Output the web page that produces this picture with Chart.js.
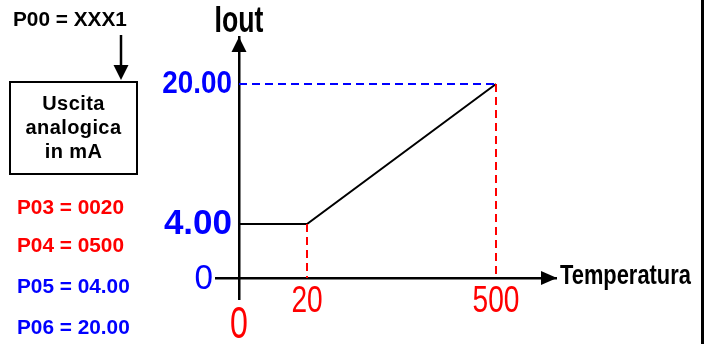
<!DOCTYPE html>
<html>
<head>
<meta charset="utf-8">
<script src="https://cdn.jsdelivr.net/npm/chart.js@4/dist/chart.umd.min.js"></script>
<style>
html, body { margin: 0; padding: 0; background: #fff; }
#wrap { position: relative; width: 711px; height: 344px; overflow: hidden; background: #fff;
        font-family: "Liberation Sans", Arial, sans-serif; }
#chart { position: absolute; left: 0; top: 0; }
.t { position: absolute; font-weight: bold; white-space: nowrap; line-height: 1; }
.p { font-size: 20.8px; left: 17px; }
.red { color: #ff0000; }
.blue { color: #0000ff; }
.box { position: absolute; left: 9px; top: 81px; width: 129px; height: 94px; box-sizing: border-box;
       border: 2px solid #000; }
.bt { position: absolute; left: 9px; width: 129px; text-align: center; font-size: 20px; font-weight: bold;
      line-height: 1; white-space: nowrap; letter-spacing: 0.4px; }
#rline { position: absolute; left: 701px; top: 0; width: 3px; height: 344px; background: #000; }
svg { position: absolute; left: 0; top: 0; }
</style>
</head>
<body>
<div id="wrap">
  <canvas id="chart" width="711" height="344"></canvas>
  <div class="t" style="left:13px; top:8.6px; font-size:20.8px;">P00 = XXX1</div>
  <svg width="140" height="90">
    <line x1="121" y1="35" x2="121" y2="67" stroke="#000" stroke-width="2.5"/>
    <polygon points="113.5,65 128.5,65 121,80" fill="#000"/>
  </svg>
  <div class="box"></div>
  <div class="bt" style="top:93.1px;">Uscita</div>
  <div class="bt" style="top:116.6px;">analogica</div>
  <div class="bt" style="top:141.1px;">in mA</div>
  <div class="t p red" style="top:197.4px;">P03 = 0020</div>
  <div class="t p red" style="top:235.4px;">P04 = 0500</div>
  <div class="t p blue" style="top:276.4px;">P05 = 04.00</div>
  <div class="t p blue" style="top:317.4px;">P06 = 20.00</div>
  <div id="rline"></div>
</div>
<script>
// ---- data ----
const temperature = [0, 20, 500];          // x values of the output curve
const iout = [4, 4, 20];                   // mA values of the output curve
const xTickValues = [0, 20, 500];
const xTickLabels = ['0', '20', '500'];
const yTickValues = [0, 4, 20];
const yTickLabels = ['0', '4.00', '20.00'];
const xAxisName = 'Temperatura';
const yAxisName = 'Iout';

// ---- piecewise (schematic) scale ----
class PiecewiseScale extends Chart.LinearScale {
  determineDataLimits() {
    const kv = this.options.knotValues;
    this.min = kv[0];
    this.max = kv[kv.length - 1];
  }
  buildTicks() {
    return this.options.tickValues.map(v => ({ value: v }));
  }
  getPixelForValue(v) {
    if (v === null || v === undefined || isNaN(v)) return NaN;
    const kv = this.options.knotValues, kf = this.options.knotFractions;
    let i = 0;
    while (i < kv.length - 2 && v > kv[i + 1]) i++;
    const f = kf[i] + (v - kv[i]) / (kv[i + 1] - kv[i]) * (kf[i + 1] - kf[i]);
    return this.getPixelForDecimal(f);
  }
  getValueForPixel(p) {
    const f = this.getDecimalForPixel(p);
    const kv = this.options.knotValues, kf = this.options.knotFractions;
    let i = 0;
    while (i < kf.length - 2 && f > kf[i + 1]) i++;
    return kv[i] + (f - kf[i]) / (kf[i + 1] - kf[i]) * (kv[i + 1] - kv[i]);
  }
  _computeLabelItems(chartArea) {
    const items = super._computeLabelItems(chartArea);
    const sx = this.options.labelShiftX || [], sy = this.options.labelShiftY || [];
    items.forEach((it, i) => {
      if (it.options && it.options.translation) {
        it.options.translation[0] += (sx[i] || 0);
        it.options.translation[1] += (sy[i] || 0);
      }
    });
    return items;
  }
  drawLabels(chartArea) {
    if (!this.options.ticks.display) return;
    const ctx = this.ctx;
    const sxs = this.options.labelScaleX || [];
    const items = this.getLabelItems(chartArea);
    items.forEach((item, i) => {
      const o = item.options, f = item.font;
      ctx.save();
      ctx.translate(o.translation[0], o.translation[1]);
      if (o.rotation) ctx.rotate(o.rotation);
      ctx.scale(sxs[i] || 1, 1);
      ctx.font = f.string;
      ctx.fillStyle = o.color;
      ctx.textAlign = o.textAlign;
      ctx.textBaseline = o.textBaseline;
      const lines = Array.isArray(item.label) ? item.label : [item.label];
      let y = item.textOffset;
      lines.forEach(l => { ctx.fillText(String(l), 0, y); y += f.lineHeight; });
      ctx.restore();
    });
  }
}
PiecewiseScale.id = 'piecewise';
PiecewiseScale.defaults = Chart.LinearScale.defaults;
Chart.register(PiecewiseScale);

const curve = temperature.map((t, i) => ({ x: t, y: iout[i] }));
const topY = iout[iout.length - 1], lastX = temperature[temperature.length - 1];
const blueGuide = [{ x: 0, y: topY }, { x: lastX, y: topY }];
const redGuide1 = [{ x: temperature[1], y: iout[1] }, { x: temperature[1], y: 0 }];
const redGuide2 = [{ x: lastX, y: topY }, { x: lastX, y: 0 }];

function scaledText(ctx, text, x, y, sx) {
  ctx.save();
  ctx.translate(x, y);
  ctx.scale(sx, 1);
  ctx.fillText(text, 0, 0);
  ctx.restore();
}

const axisDecor = {
  id: 'axisDecor',
  afterDraw(chart) {
    const { ctx, chartArea: a, scales: { x, y } } = chart;
    const x0 = x.getPixelForValue(0), y0 = y.getPixelForValue(0);
    ctx.save();
    ctx.fillStyle = '#000';
    ctx.beginPath();
    ctx.moveTo(a.right + 1, y0); ctx.lineTo(a.right - 15, y0 - 7); ctx.lineTo(a.right - 15, y0 + 7);
    ctx.closePath(); ctx.fill();
    ctx.beginPath();
    ctx.moveTo(x0, a.top); ctx.lineTo(x0 - 7.5, a.top + 15); ctx.lineTo(x0 + 7.5, a.top + 15);
    ctx.closePath(); ctx.fill();
    ctx.textBaseline = 'alphabetic';
    ctx.font = 'bold 37px "Liberation Sans", Arial, sans-serif';
    ctx.textAlign = 'center';
    scaledText(ctx, yAxisName, x0, a.top - 5, 0.72);
    ctx.font = 'bold 27px "Liberation Sans", Arial, sans-serif';
    ctx.textAlign = 'left';
    scaledText(ctx, xAxisName, a.right + 4, y0 + 6, 0.81);
    ctx.restore();
  }
};

const dashed = (data, color) => ({
  data, borderColor: color, borderWidth: 2, borderDash: [8, 5], showLine: true,
  pointRadius: 0, fill: false, tension: 0
});

new Chart(document.getElementById('chart'), {
  type: 'scatter',
  data: {
    datasets: [
      dashed(blueGuide, '#0000ff'),
      dashed(redGuide1, '#ff0000'),
      dashed(redGuide2, '#ff0000'),
      { data: curve, borderColor: '#000', borderWidth: 2, showLine: true, pointRadius: 0,
        fill: false, tension: 0, borderJoinStyle: 'miter' }
    ]
  },
  options: {
    responsive: false,
    animation: false,
    devicePixelRatio: 1,
    layout: { padding: { left: 216, top: 37, right: 155, bottom: 45 } },
    plugins: { legend: { display: false }, tooltip: { enabled: false }, title: { display: false } },
    scales: {
      x: {
        type: 'piecewise',
        position: { y: 0 },
        knotValues: [-6.8, 0, 20, 500, 652],
        knotFractions: [0, 23 / 340, 91 / 340, 280 / 340, 1],
        tickValues: xTickValues,
        labelShiftY: [20, 0, 0],
        labelScaleX: [0.73, 0.78, 0.78],
        grid: { display: false, drawTicks: false, tickLength: 0 },
        border: { display: true, color: '#000', width: 2.5 },
        ticks: {
          autoSkip: false, maxRotation: 0, minRotation: 0, padding: 6, color: '#ff0000',
          callback: (v) => xTickLabels[xTickValues.indexOf(v)],
          font: (c) => c.tick && c.tick.value === 0
            ? { family: '"Liberation Sans", Arial', size: 44, weight: 'normal', lineHeight: 1 }
            : { family: '"Liberation Sans", Arial', size: 36, weight: 'normal', lineHeight: 1 }
        }
      },
      y: {
        type: 'piecewise',
        position: { x: 0 },
        knotValues: [-1.56, 0, 4, 20, 25.37],
        knotFractions: [0, 21 / 262, 75 / 262, 215 / 262, 1],
        tickValues: yTickValues,
        labelShiftX: [-26, -7, -7],
        labelShiftY: [1.5, 0, 0],
        labelScaleX: [0.95, 1, 0.87],
        grid: { display: false, drawTicks: false, tickLength: 0 },
        border: { display: true, color: '#000', width: 2.5 },
        ticks: {
          autoSkip: false, padding: 0, color: '#0000ff',
          callback: (v) => yTickLabels[yTickValues.indexOf(v)],
          font: (c) => {
            const v = c.tick ? c.tick.value : 4;
            if (v === 0) return { family: '"Liberation Sans", Arial', size: 35, weight: 'normal', lineHeight: 1 };
            if (v === 4) return { family: '"Liberation Sans", Arial', size: 35, weight: 'bold', lineHeight: 1 };
            return { family: '"Liberation Sans", Arial', size: 32, weight: 'bold', lineHeight: 1 };
          }
        }
      }
    }
  },
  plugins: [axisDecor]
});
</script>
</body>
</html>
